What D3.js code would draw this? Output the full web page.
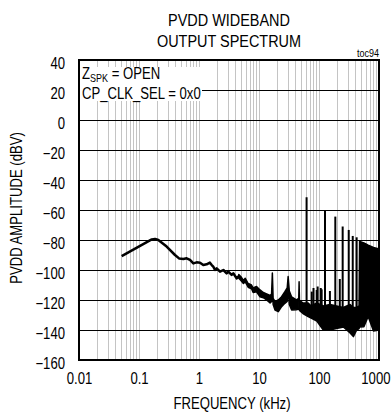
<!DOCTYPE html>
<html><head><meta charset="utf-8">
<script src="https://cdn.jsdelivr.net/npm/d3@7"></script>
<style>
html,body{margin:0;padding:0;background:#fff;}
svg{display:block;}
text{font-family:'Liberation Sans',Arial,sans-serif;fill:#000;}
</style></head><body>
<svg id="chart" width="391" height="415"></svg>
<script>
// Axis ticks
const yTicks = [40, 20, 0, -20, -40, -60, -80, -100, -120, -140, -160];
const xTicks = [0.01, 0.1, 1, 10, 100, 1000];
const xTickLabels = ["0.01", "0.1", "1", "10", "100", "1000"];

// Low-frequency part of the spectrum: frequency (kHz) and amplitude (dBV)
const traceFreq = [0.0514, 0.163, 0.185, 0.21, 0.289, 0.398, 0.47, 0.548, 0.623, 0.708, 0.805, 0.914, 1.04, 1.18, 1.34, 1.52, 1.63, 1.73, 1.85, 1.97, 2.24, 2.55, 2.89, 3.08, 3.5, 3.73, 4.24, 4.6];
const traceDb   = [-90.7, -79.6, -79.3, -80, -84.4, -90, -92.4, -92.7, -92.2, -93.3, -95.6, -94.9, -95.1, -96.7, -96.2, -95.1, -96.7, -97.8, -100, -98.9, -101.1, -100, -102.2, -101.1, -103.3, -102.2, -105.6, -104];

// Noise floor envelope from 4.6 kHz up (upper and lower edge, dBV)
const floorFreq = [4.6, 5.0, 5.5, 5.9, 6.6, 7.5, 8.0, 9.1, 10.4, 11.8, 13.4, 15.3, 16.2, 16.7, 17.2, 18.5, 21, 23.8, 27, 29.5, 30.6, 32, 35, 42, 46, 46.6, 47.2, 54, 66, 74, 92, 118, 152, 196, 255, 330, 374, 425, 465, 475, 560, 660, 810, 1000];
const floorHigh = [-103, -104.5, -107, -105.5, -109, -110, -112, -111, -113.3, -115, -116, -117, -116, -102, -119, -121, -120, -117.8, -114.5, -112, -104.4, -114, -118, -120, -119, -107.8, -120, -122, -122, -124, -122, -124, -123, -124, -125, -123, -125, -125, -124, -81, -82, -83.5, -85, -86];
const floorLow  = [-105.5, -107, -109, -108, -111.5, -112.5, -115, -114.5, -117.8, -118.5, -120, -122, -121, -110, -123, -126.7, -127.8, -124.4, -122.2, -121, -112, -123, -126.7, -126.5, -126, -118, -127, -129, -131, -132, -134, -140, -140, -139, -138, -142, -144.4, -140, -139, -138, -137.8, -131, -140.6, -140];

// Discrete tones above the floor
const spikeFreq = [62.1, 75.7, 81, 91.6, 95, 107, 110.7, 126, 152, 187, 222, 248, 313, 365, 424];
const spikeDb   = [-51.5, -114.4, -112, -113.3, -111, -112, -112.9, -60, -114, -64.4, -106, -71, -73.3, -77.3, -78.2];

const svg = d3.select("#chart");
const L = 79, R = 379, T = 60, B = 360;
const NARROW = 0.82;

const x = d3.scaleLog().domain([0.01, 1000]).range([L, R]);
const y = d3.scaleLinear().domain([-160, 40]).range([B, T]);

// Squeeze text horizontally about its anchor point (narrow face look)
function condense(sel, s, pre) {
  sel.each(function () {
    const t = d3.select(this);
    const ax = +(t.attr("x") || 0);
    t.attr("transform", `${pre || ""} translate(${ax},0) scale(${s},1) translate(${-ax},0)`);
  });
}

// Title
const title = svg.append("text").attr("x", 229).attr("text-anchor", "middle").style("font-size", "17px");
title.append("tspan").attr("x", 229).attr("y", 26).text("PVDD WIDEBAND");
title.append("tspan").attr("x", 229).attr("y", 47).text("OUTPUT SPECTRUM");
condense(title, 0.85);

const toc = svg.append("text").attr("x", R).attr("y", 57).attr("text-anchor", "end")
  .style("font-size", "10px").text("toc94");
condense(toc, 0.9);

// Vertical grid (1-9 per decade)
svg.append("g").selectAll("line").data(x.ticks().filter(d => d > 0.01 && d < 1000))
  .join("line")
  .attr("x1", d => Math.round(x(d)) + 0.5).attr("x2", d => Math.round(x(d)) + 0.5)
  .attr("y1", T).attr("y2", B)
  .attr("stroke", "#c4c4c4").attr("stroke-width", 1);

// Horizontal grid
svg.append("g").selectAll("line").data(yTicks.filter(d => d > -160 && d < 40))
  .join("line")
  .attr("x1", L).attr("x2", R)
  .attr("y1", d => Math.round(y(d)) + 0.5).attr("y2", d => Math.round(y(d)) + 0.5)
  .attr("stroke", "#000").attr("stroke-width", 1);

// Condition label box
svg.append("rect").attr("x", L + 1).attr("y", 67).attr("width", 122).attr("height", 34).attr("fill", "#fff");
const t1 = svg.append("text").attr("x", 82).attr("y", 79).style("font-size", "16px");
t1.append("tspan").text("Z");
t1.append("tspan").attr("dy", 3).style("font-size", "11px").text("SPK");
t1.append("tspan").attr("dy", -3).text(" = OPEN");
condense(t1, NARROW);
const t2 = svg.append("text").attr("x", 82).attr("y", 99).style("font-size", "16px").text("CP_CLK_SEL = 0x0");
condense(t2, NARROW);

// Noise floor band
const band = d3.area()
  .x((d, i) => x(floorFreq[i]))
  .y0((d, i) => y(floorLow[i]))
  .y1((d, i) => y(floorHigh[i]));
svg.append("path").datum(floorFreq).attr("d", band)
  .attr("fill", "#000").attr("stroke", "#000").attr("stroke-width", 1.5).attr("stroke-linejoin", "round");

// Tones, each drawn down into the floor band
const floorAt = f => {
  const i = Math.max(1, d3.bisectLeft(floorFreq, f));
  const t = (Math.log(f) - Math.log(floorFreq[i - 1])) / (Math.log(floorFreq[i]) - Math.log(floorFreq[i - 1]));
  return floorLow[i - 1] + t * (floorLow[i] - floorLow[i - 1]);
};
svg.append("g").selectAll("line").data(spikeFreq).join("line")
  .attr("x1", d => x(d)).attr("x2", d => x(d))
  .attr("y1", (d, i) => y(spikeDb[i])).attr("y2", d => y(floorAt(d)) - 2)
  .attr("stroke", "#000").attr("stroke-width", 2);

// Low-frequency trace
const line = d3.line().x((d, i) => x(traceFreq[i])).y((d, i) => y(traceDb[i]));
svg.append("path").datum(traceFreq).attr("d", line)
  .attr("fill", "none").attr("stroke", "#000").attr("stroke-width", 2.5).attr("stroke-linejoin", "round");

// Frame
svg.append("rect").attr("x", L).attr("y", T).attr("width", R - L).attr("height", B - T)
  .attr("fill", "none").attr("stroke", "#000").attr("stroke-width", 2);

// Axes
const yAxis = svg.append("g").attr("transform", `translate(${L},0)`)
  .call(d3.axisLeft(y).tickValues(yTicks).tickSize(0).tickPadding(14));
yAxis.select(".domain").remove();
yAxis.selectAll("text").attr("dy", "0.5em").style("font-size", "16px");
yAxis.attr("font-family", null);
condense(yAxis.selectAll("text"), NARROW);

const xAxis = svg.append("g").attr("transform", `translate(0,${B})`)
  .call(d3.axisBottom(x).tickValues(xTicks).tickFormat((d, i) => xTickLabels[i]).tickSize(0).tickPadding(13));
xAxis.select(".domain").remove();
xAxis.attr("font-family", null);
xAxis.selectAll("text").style("font-size", "16px");
// keep the last label inside the window
xAxis.selectAll("text").filter((d, i) => i === xTicks.length - 1).attr("text-anchor", "end").attr("x", 11);
condense(xAxis.selectAll("text"), NARROW);

// Axis titles
const yt = svg.append("text").attr("text-anchor", "middle")
  .style("font-size", "16px").text("PVDD AMPLITUDE (dBV)");
condense(yt, NARROW, "translate(22,208) rotate(-90)");
const xt = svg.append("text").attr("x", 232).attr("y", 409).attr("text-anchor", "middle")
  .style("font-size", "16px").text("FREQUENCY (kHz)");
condense(xt, NARROW);
</script></body></html>
